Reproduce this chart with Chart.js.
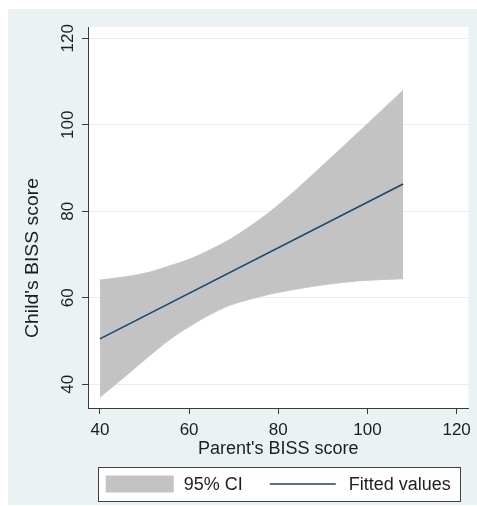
<!DOCTYPE html>
<html>
<head>
<meta charset="utf-8">
<script src="https://cdn.jsdelivr.net/npm/chart.js@4.4.0/dist/chart.umd.min.js"></script>
<style>
  html, body { margin: 0; padding: 0; background: #ffffff; }
  #wrap { position: relative; width: 477px; height: 506px; }
</style>
</head>
<body>
<div id="wrap"><canvas id="chart" width="477" height="506"></canvas></div>
<script>
// Parent's BISS score grid on which the 95% CI band is drawn
const parentScore = [40, 46, 51, 56, 60, 64.5, 69, 73.5, 78, 84, 91, 98, 108];
// Upper and lower 95% CI limits of the child's predicted score
const ciUpper = [64.1, 64.9, 65.9, 67.5, 68.9, 71.0, 73.4, 76.4, 79.8, 85.0, 91.6, 98.3, 108.0];
const ciLower = [37.0, 42.1, 46.5, 50.6, 53.3, 56.0, 58.2, 59.6, 60.8, 62.0, 63.1, 63.9, 64.4];
// Fitted regression line (end points)
const fitX = [40, 108];
const fitY = [50.5, 86.3];
// Axis ticks and texts
const tickValues = [40, 60, 80, 100, 120];
const seriesLabels = ['95% CI', 'Fitted values'];
const xTitle = "Parent's BISS score";
const yTitle = "Child's BISS score";

const FONT = "'Liberation Sans', Arial, Helvetica, sans-serif";
const TEXT = '#1e1e1e';
const AXIS = '#3a3a3a';
const BAND = '#C3C3C3';
const NAVY = '#1A476F';
const PANEL = '#EAF2F3';

const toPoints = (xs, ys) => xs.map((x, i) => ({ x: x, y: ys[i] }));
const setTicks = scale => { scale.ticks = tickValues.map(v => ({ value: v })); };

// Graph region background and white plot region
const panelPlugin = {
  id: 'panel',
  beforeDraw(chart) {
    const { ctx, chartArea: a } = chart;
    ctx.save();
    ctx.fillStyle = '#ffffff';
    ctx.fillRect(0, 0, chart.width, chart.height);
    ctx.fillStyle = PANEL;
    ctx.fillRect(8, 9, chart.width - 8, chart.height - 10);
    ctx.fillStyle = '#ffffff';
    ctx.fillRect(a.left, a.top, a.right - a.left, a.bottom - a.top);
    ctx.restore();
  }
};

// Vertical axis title, centred on the whole graph region
const yTitlePlugin = {
  id: 'yTitle',
  afterDraw(chart) {
    const ctx = chart.ctx;
    ctx.save();
    ctx.translate(37.5, 258);
    ctx.rotate(-Math.PI / 2);
    ctx.scale(1.077, 1);
    ctx.font = '18px ' + FONT;
    ctx.fillStyle = TEXT;
    ctx.textAlign = 'center';
    ctx.textBaseline = 'alphabetic';
    ctx.fillText(yTitle, 0, 0);
    ctx.restore();
  }
};

// Boxed legend below the axis title
const legendPlugin = {
  id: 'boxLegend',
  afterDraw(chart) {
    const { ctx, chartArea: a } = chart;
    ctx.save();
    ctx.font = '18px ' + FONT;
    const w1 = ctx.measureText(seriesLabels[0]).width;
    const w2 = ctx.measureText(seriesLabels[1]).width;
    const sw = 68, gapText = 10, gapItem = 27, lw = 66, gapLine = 13;
    const total = sw + gapText + w1 + gapItem + lw + gapLine + w2;
    const cx = (a.left + a.right) / 2;
    let x = cx - total / 2;
    const top = 467, h = 34, cy = top + h / 2;
    // frame
    ctx.fillStyle = '#ffffff';
    ctx.fillRect(x - 8, top, total + 17, h);
    ctx.strokeStyle = '#404040';
    ctx.lineWidth = 1;
    ctx.strokeRect(Math.round(x - 8) + 0.5, top + 0.5, Math.round(total + 17), h);
    // CI swatch
    ctx.fillStyle = BAND;
    ctx.fillRect(x, cy - 8.5, sw, 17);
    x += sw + gapText;
    ctx.fillStyle = TEXT;
    ctx.textBaseline = 'middle';
    ctx.textAlign = 'left';
    ctx.fillText(seriesLabels[0], x, cy + 1);
    x += w1 + gapItem;
    // fitted line sample
    ctx.strokeStyle = NAVY;
    ctx.lineWidth = 1.6;
    ctx.beginPath();
    ctx.moveTo(x, cy);
    ctx.lineTo(x + lw, cy);
    ctx.stroke();
    x += lw + gapLine;
    ctx.fillText(seriesLabels[1], x, cy + 1);
    ctx.restore();
  }
};

new Chart(document.getElementById('chart').getContext('2d'), {
  type: 'line',
  data: {
    datasets: [
      {
        label: seriesLabels[1],
        data: toPoints(fitX, fitY),
        borderColor: NAVY,
        borderWidth: 1.6,
        pointRadius: 0,
        fill: false
      },
      {
        label: seriesLabels[0],
        data: toPoints(parentScore, ciUpper),
        borderColor: BAND,
        borderWidth: 0.8,
        backgroundColor: BAND,
        pointRadius: 0,
        fill: '+1',
        cubicInterpolationMode: 'monotone'
      },
      {
        label: seriesLabels[0] + ' (lower)',
        data: toPoints(parentScore, ciLower),
        borderColor: BAND,
        borderWidth: 0.8,
        pointRadius: 0,
        fill: false,
        cubicInterpolationMode: 'monotone'
      }
    ]
  },
  options: {
    responsive: false,
    animation: false,
    devicePixelRatio: 1,
    layout: { padding: { left: 0, top: 27, right: 6, bottom: 46 } },
    plugins: { legend: { display: false }, tooltip: { enabled: false } },
    scales: {
      x: {
        type: 'linear',
        min: 37.33,
        max: 122.67,
        afterBuildTicks: setTicks,
        afterFit: s => { s.height = 52; },
        grid: { drawOnChartArea: false, drawTicks: true, tickLength: 6, tickColor: AXIS, lineWidth: 1 },
        border: { display: true, color: AXIS, width: 1 },
        ticks: { font: { family: FONT, size: 17 }, color: TEXT, padding: 6, maxRotation: 0, autoSkip: false },
        title: { display: true, text: xTitle, font: { family: FONT, size: 18 }, color: TEXT, padding: { top: 0, bottom: 0 } }
      },
      y: {
        type: 'linear',
        min: 34.52,
        max: 122.6,
        afterBuildTicks: setTicks,
        afterFit: s => { s.width = 88; },
        grid: { color: '#E4EEF1', lineWidth: 1, drawTicks: true, tickLength: 6, tickColor: AXIS },
        border: { display: true, color: AXIS, width: 1 },
        ticks: { font: { family: FONT, size: 17 }, color: TEXT, padding: 0, minRotation: 90, maxRotation: 90, crossAlign: 'center', autoSkip: false }
      }
    }
  },
  plugins: [panelPlugin, yTitlePlugin, legendPlugin]
});
</script>
</body>
</html>
